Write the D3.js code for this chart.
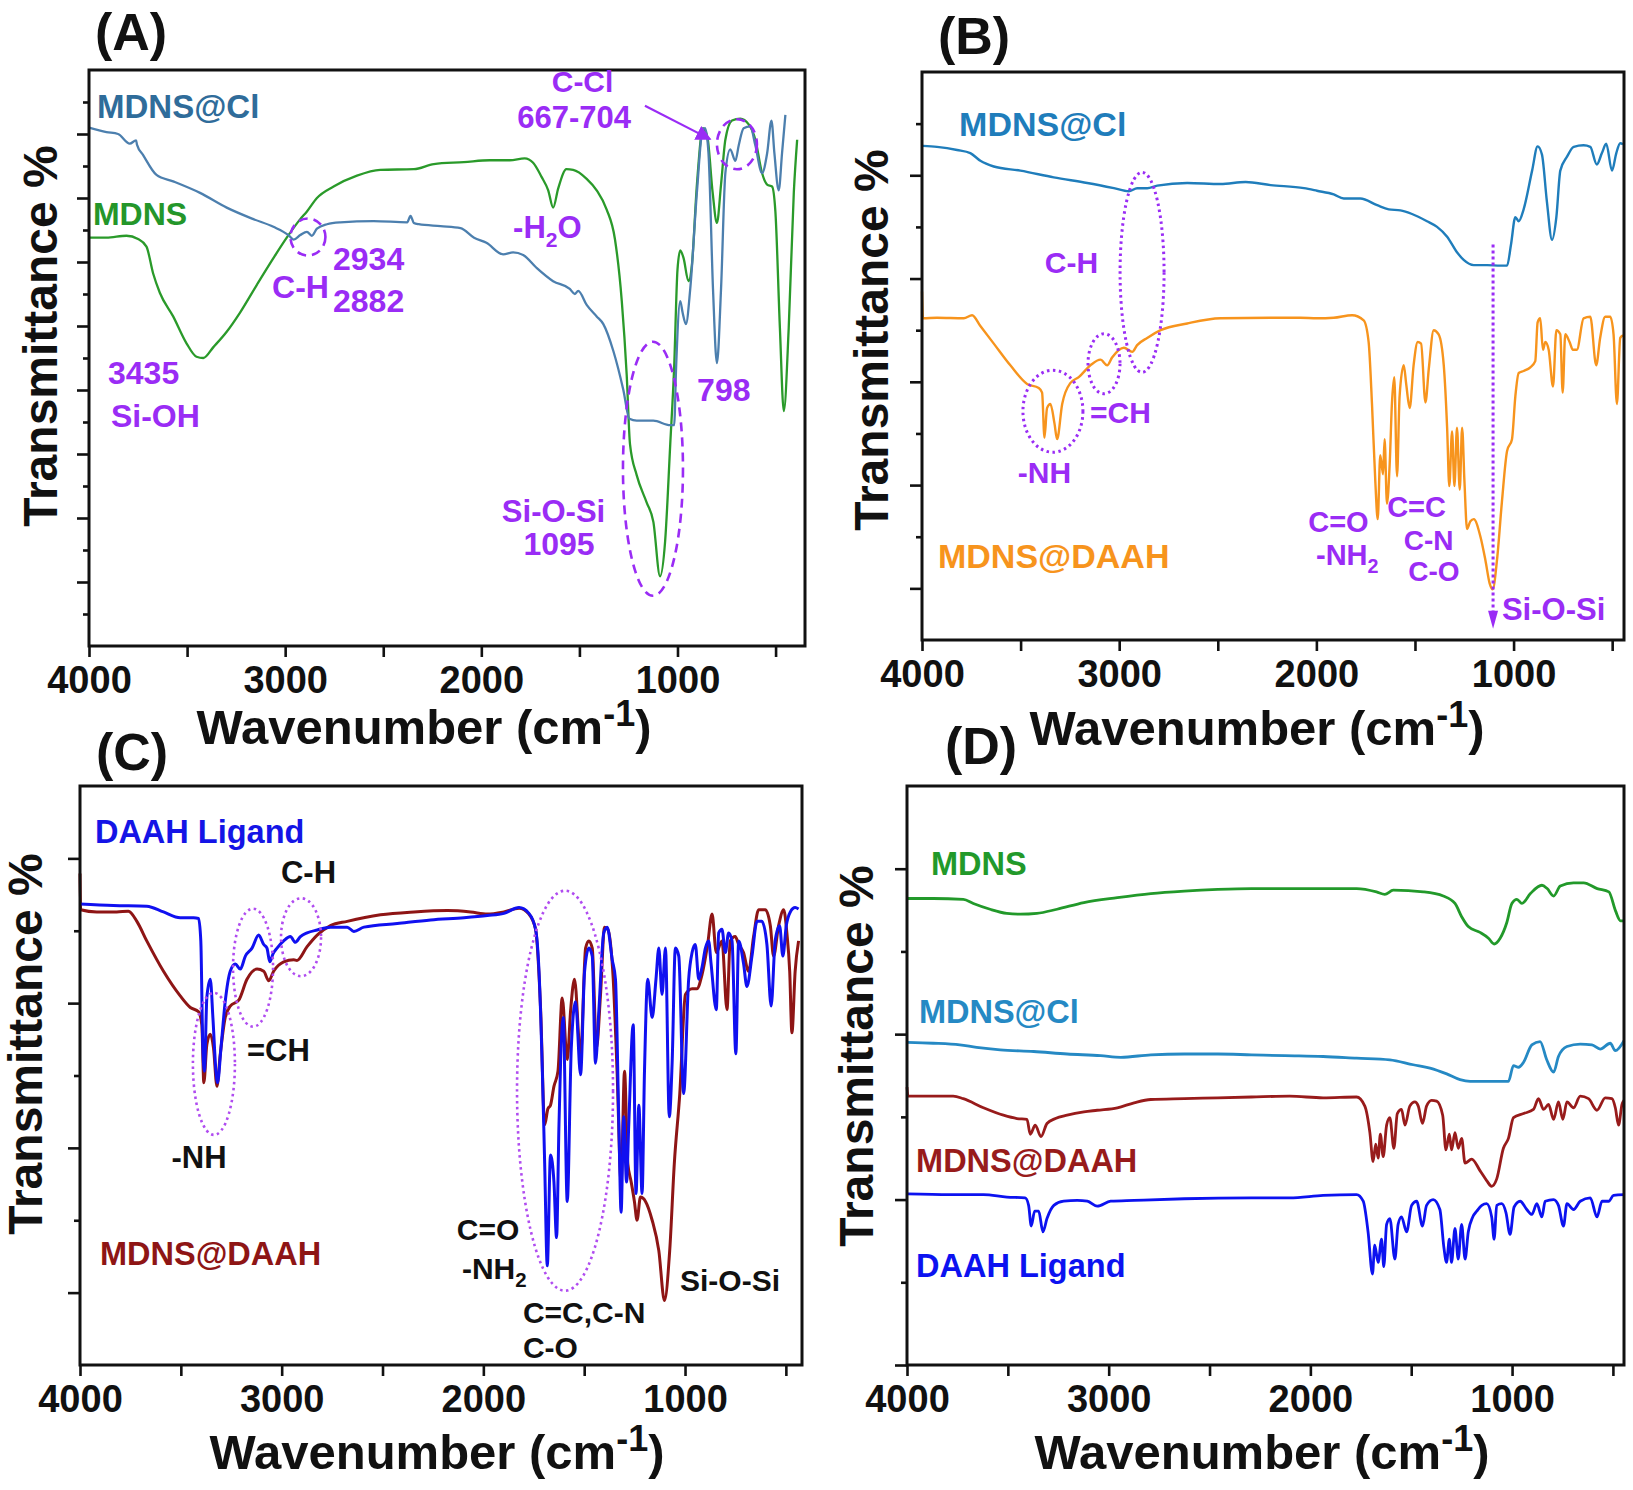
<!DOCTYPE html>
<html>
<head>
<meta charset="utf-8">
<script src="https://cdn.jsdelivr.net/npm/d3@7"></script>
<style>
  body { margin: 0; background: #fff; }
  svg text { font-family: "Liberation Sans", Arial, sans-serif; font-weight: bold; }
</style>
</head>
<body>
<div id="chart"></div>
<script>
// ---- spectra: [wavenumber, transmittance (arb. units)] ----
const aMdnsCl = [[4000,8.10],[3911,8.03],[3852,8.00],[3792,7.85],[3760,7.90],[3755,7.83],[3724,7.67],[3656,7.36],[3571,7.26],[3434,7.08],[3298,6.85],[3162,6.67],[3060,6.55],[2983,6.42],[2957,6.35],[2923,6.42],[2889,6.47],[2864,6.41],[2838,6.52],[2787,6.59],[2719,6.62],[2549,6.64],[2378,6.62],[2361,6.72],[2344,6.61],[2319,6.59],[2208,6.56],[2106,6.53],[2037,6.38],[1974,6.30],[1889,6.12],[1838,6.15],[1787,6.11],[1719,5.91],[1634,5.70],[1549,5.58],[1523,5.50],[1506,5.55],[1463,5.33],[1412,5.15],[1378,5.03],[1327,4.61],[1276,4.00],[1245,3.55],[1208,3.52],[1123,3.52],[1037,3.45],[1017,3.45],[1007,4.36],[986,5.39],[974,5.21],[957,5.03],[935,5.58],[901,7.09],[872,8.06],[859,8.09],[842,7.70],[819,5.58],[799,4.42],[778,5.58],[756,7.39],[731,7.76],[705,7.58],[688,7.82],[663,8.09],[629,8.12],[603,7.82],[569,7.39],[543,7.70],[521,8.21],[506,7.70],[484,7.12],[467,7.70],[450,8.30]];
const aMdns = [[4000,6.38],[3911,6.38],[3809,6.41],[3750,6.36],[3707,6.24],[3673,5.82],[3639,5.52],[3571,5.15],[3503,4.73],[3452,4.52],[3417,4.50],[3366,4.67],[3298,4.91],[3230,5.21],[3145,5.64],[3060,6.06],[2992,6.38],[2923,6.67],[2889,6.79],[2838,7.00],[2753,7.18],[2634,7.35],[2515,7.44],[2344,7.45],[2242,7.53],[2089,7.56],[1957,7.59],[1855,7.59],[1779,7.62],[1736,7.55],[1693,7.33],[1659,7.12],[1634,6.85],[1608,7.15],[1566,7.45],[1532,7.44],[1463,7.30],[1412,7.12],[1361,6.82],[1319,6.36],[1284,5.39],[1259,4.24],[1242,3.15],[1208,2.67],[1157,2.24],[1123,1.94],[1089,1.09],[1063,1.64],[1037,3.15],[1017,4.36],[1000,5.88],[986,6.18],[969,6.06],[944,5.70],[927,5.94],[901,7.21],[870,8.09],[847,7.94],[821,7.09],[799,6.61],[778,7.21],[756,7.91],[722,8.21],[680,8.24],[637,8.15],[603,7.91],[569,7.39],[543,7.21],[518,7.18],[501,6.79],[478,4.97],[458,3.67],[433,4.97],[407,7.09],[390,7.91]];

const bMdnsCl = [[3995,9.57],[3924,9.55],[3822,9.49],[3755,9.43],[3704,9.28],[3636,9.17],[3501,9.09],[3332,8.96],[3162,8.85],[3027,8.75],[2951,8.69],[2909,8.75],[2858,8.75],[2807,8.80],[2655,8.85],[2486,8.83],[2359,8.87],[2232,8.81],[2063,8.75],[1997,8.70],[1912,8.63],[1861,8.55],[1777,8.55],[1692,8.42],[1633,8.34],[1574,8.32],[1515,8.25],[1439,8.11],[1388,8.00],[1337,7.81],[1287,7.51],[1253,7.36],[1202,7.26],[1135,7.26],[1067,7.25],[1033,7.25],[1013,7.66],[991,8.19],[974,8.11],[949,8.34],[906,9.09],[878,9.56],[856,9.40],[831,8.49],[805,7.75],[783,8.19],[763,9.09],[729,9.36],[695,9.55],[645,9.58],[611,9.55],[578,9.21],[552,9.43],[530,9.61],[501,9.09],[479,9.43],[459,9.62],[445,9.60]];
const bMdnsDaah = [[4000,6.75],[3995,6.23],[3924,6.24],[3788,6.23],[3746,6.29],[3704,6.08],[3636,5.74],[3552,5.32],[3467,4.96],[3408,4.88],[3391,4.79],[3379,3.92],[3366,4.49],[3349,4.57],[3328,4.19],[3315,3.89],[3289,4.57],[3247,4.98],[3205,5.09],[3146,5.32],[3095,5.43],[3061,5.32],[3036,5.47],[2976,5.66],[2934,5.58],[2909,5.71],[2858,5.85],[2790,6.00],[2655,6.13],[2486,6.23],[2232,6.24],[2081,6.24],[1997,6.23],[1912,6.24],[1819,6.29],[1760,6.19],[1735,5.77],[1718,4.57],[1701,3.06],[1689,2.34],[1676,3.58],[1662,3.21],[1654,3.89],[1642,2.64],[1628,3.43],[1617,4.57],[1605,5.09],[1591,3.17],[1578,4.72],[1557,5.32],[1544,4.94],[1527,4.49],[1507,5.32],[1486,5.77],[1469,5.74],[1447,4.60],[1430,5.25],[1405,6.00],[1380,5.92],[1354,5.32],[1337,4.11],[1326,2.98],[1312,4.04],[1300,2.98],[1287,4.11],[1273,2.91],[1261,4.11],[1249,3.06],[1236,2.15],[1219,2.30],[1202,2.34],[1168,2.00],[1143,1.55],[1121,1.09],[1106,0.98],[1084,1.55],[1059,2.68],[1033,3.66],[1008,3.89],[991,4.72],[974,5.17],[949,5.21],[915,5.28],[890,5.40],[878,6.15],[865,6.23],[851,5.62],[839,5.77],[822,5.62],[800,4.91],[783,6.00],[763,5.92],[751,4.79],[738,5.92],[716,5.77],[699,5.62],[679,5.62],[645,6.23],[611,6.26],[581,5.32],[561,5.85],[535,6.26],[510,6.26],[493,5.92],[476,4.57],[459,5.85],[445,5.90]];

const cLigand = [[4000,6.37],[3834,6.35],[3669,6.34],[3586,6.26],[3503,6.18],[3437,6.18],[3412,6.17],[3401,5.86],[3391,4.38],[3383,4.06],[3371,5.08],[3354,5.33],[3341,4.80],[3326,4.06],[3318,3.90],[3301,4.38],[3280,5.02],[3255,5.44],[3230,5.54],[3205,5.47],[3180,5.65],[3147,5.76],[3114,5.94],[3089,5.81],[3073,5.76],[3059,5.57],[3043,5.68],[3023,5.76],[2990,5.86],[2957,5.92],[2932,5.84],[2907,5.92],[2874,5.97],[2824,6.01],[2758,6.05],[2675,6.05],[2642,5.99],[2592,6.05],[2427,6.10],[2261,6.15],[2096,6.18],[1980,6.21],[1898,6.24],[1823,6.32],[1774,6.24],[1741,6.02],[1724,5.44],[1708,4.12],[1696,2.79],[1683,1.37],[1667,2.90],[1650,2.53],[1637,1.76],[1625,3.32],[1604,4.80],[1584,2.26],[1564,4.38],[1543,5.02],[1518,4.01],[1498,5.44],[1477,5.76],[1460,5.65],[1444,4.17],[1427,4.91],[1403,5.97],[1386,6.05],[1361,5.60],[1345,5.33],[1328,3.32],[1317,2.11],[1304,3.43],[1290,2.53],[1279,3.32],[1257,4.70],[1243,2.37],[1229,3.59],[1213,2.37],[1201,4.06],[1185,5.33],[1163,4.80],[1144,5.33],[1130,5.76],[1114,5.12],[1097,5.76],[1078,3.43],[1064,4.17],[1048,5.76],[1031,5.65],[1007,3.75],[982,5.33],[965,5.70],[949,5.81],[932,5.33],[916,5.49],[899,5.76],[883,5.86],[871,5.55],[845,4.91],[833,5.97],[817,6.02],[800,5.70],[784,5.97],[767,5.86],[748,4.30],[734,5.86],[710,5.55],[693,5.23],[668,5.65],[643,6.13],[619,6.13],[594,5.81],[573,4.96],[553,5.86],[531,6.07],[515,5.65],[498,6.07],[478,6.26],[454,6.32],[437,6.30]];
const cMdnsDaah = [[4000,6.79],[3997,6.29],[3917,6.26],[3818,6.26],[3760,6.27],[3718,6.13],[3669,5.86],[3586,5.44],[3503,5.10],[3453,4.94],[3412,4.88],[3396,4.70],[3386,3.90],[3371,4.43],[3354,4.57],[3338,4.38],[3321,3.85],[3305,4.28],[3280,4.80],[3255,4.96],[3213,5.04],[3172,5.33],[3122,5.47],[3089,5.44],[3064,5.31],[3040,5.44],[2990,5.57],[2940,5.60],[2924,5.59],[2874,5.78],[2824,5.94],[2758,6.07],[2675,6.13],[2510,6.22],[2344,6.26],[2178,6.28],[2063,6.26],[1980,6.23],[1898,6.26],[1823,6.31],[1774,6.23],[1741,6.02],[1716,4.91],[1696,3.32],[1680,3.54],[1667,3.59],[1650,3.85],[1630,4.06],[1609,5.07],[1584,4.22],[1567,4.91],[1548,5.33],[1518,4.28],[1493,5.76],[1477,5.86],[1460,5.76],[1439,4.38],[1419,5.12],[1399,6.05],[1383,6.02],[1356,5.33],[1337,4.06],[1317,2.53],[1300,4.06],[1284,2.79],[1267,2.53],[1251,2.26],[1238,2.00],[1221,2.32],[1196,2.26],[1163,2.00],[1130,1.58],[1102,0.89],[1076,1.58],[1053,2.79],[1026,3.75],[998,5.12],[965,5.20],[941,5.20],[916,5.39],[888,5.81],[866,6.23],[845,5.70],[817,5.86],[792,4.91],[776,5.86],[751,5.92],[734,5.81],[710,5.70],[685,5.44],[660,5.92],[635,6.29],[602,6.29],[577,6.07],[561,5.65],[536,6.07],[511,6.29],[495,5.97],[481,5.44],[470,4.59],[454,5.44],[437,5.86]];

const dMdns = [[4000,5.64],[3870,5.64],[3721,5.63],[3671,5.58],[3588,5.51],[3505,5.46],[3439,5.45],[3356,5.46],[3256,5.51],[3123,5.59],[2957,5.65],[2791,5.70],[2625,5.73],[2459,5.75],[2292,5.76],[2126,5.76],[1937,5.76],[1771,5.76],[1672,5.72],[1631,5.69],[1589,5.74],[1440,5.72],[1341,5.67],[1283,5.58],[1250,5.42],[1217,5.30],[1159,5.23],[1117,5.16],[1089,5.09],[1059,5.16],[1026,5.35],[1001,5.58],[976,5.63],[951,5.58],[909,5.70],[852,5.80],[826,5.76],[794,5.67],[761,5.79],[695,5.83],[645,5.83],[578,5.76],[520,5.72],[487,5.49],[462,5.37],[445,5.37]];
const dMdnsCl = [[4000,3.90],[3870,3.89],[3738,3.87],[3655,3.84],[3538,3.81],[3372,3.79],[3206,3.76],[3040,3.74],[2940,3.72],[2791,3.75],[2625,3.76],[2459,3.76],[2292,3.75],[2126,3.74],[1937,3.73],[1771,3.71],[1606,3.69],[1490,3.63],[1407,3.59],[1324,3.52],[1258,3.45],[1208,3.43],[1109,3.43],[1018,3.43],[993,3.62],[968,3.60],[943,3.66],[902,3.87],[861,3.91],[828,3.69],[794,3.54],[770,3.73],[728,3.85],[662,3.88],[604,3.87],[563,3.82],[513,3.89],[488,3.80],[445,3.92]];
const dMdnsDaah = [[4000,3.36],[3995,3.25],[3870,3.25],[3771,3.25],[3721,3.22],[3621,3.11],[3522,3.02],[3455,2.98],[3405,2.97],[3389,2.79],[3364,2.90],[3336,2.76],[3306,2.92],[3264,2.98],[3206,3.02],[3123,3.06],[3057,3.08],[2957,3.11],[2874,3.17],[2791,3.21],[2625,3.22],[2459,3.23],[2292,3.24],[2103,3.25],[1937,3.23],[1771,3.24],[1730,3.13],[1705,2.81],[1689,2.46],[1676,2.67],[1664,2.50],[1653,2.79],[1639,2.52],[1622,2.90],[1606,2.99],[1586,2.62],[1569,3.04],[1548,3.09],[1531,2.90],[1507,3.13],[1482,3.18],[1465,3.13],[1444,2.92],[1424,3.13],[1399,3.20],[1374,3.19],[1344,3.02],[1328,2.60],[1311,2.79],[1300,2.60],[1283,2.81],[1267,2.62],[1250,2.74],[1233,2.44],[1200,2.49],[1159,2.35],[1126,2.23],[1101,2.16],[1076,2.25],[1043,2.62],[1018,2.74],[993,2.99],[943,3.04],[894,3.09],[869,3.22],[844,3.09],[819,3.15],[794,2.97],[770,3.18],[748,2.97],[728,3.18],[695,3.11],[662,3.25],[621,3.22],[579,3.08],[538,3.23],[505,3.22],[488,3.11],[472,2.90],[455,3.15],[445,3.20]];
const dLigand = [[4000,2.07],[3787,2.06],[3621,2.06],[3505,2.03],[3414,2.02],[3397,1.93],[3384,1.68],[3367,1.86],[3347,1.86],[3326,1.61],[3306,1.77],[3272,1.93],[3223,1.98],[3156,1.99],[3106,1.98],[3057,1.92],[2990,1.98],[2874,1.99],[2625,2.01],[2292,2.02],[2103,2.02],[1937,2.05],[1771,2.06],[1738,1.98],[1714,1.61],[1692,1.10],[1681,1.45],[1664,1.24],[1647,1.52],[1636,1.19],[1622,1.70],[1606,1.77],[1581,1.28],[1565,1.70],[1548,1.79],[1523,1.61],[1498,1.93],[1473,1.98],[1444,1.68],[1424,1.93],[1391,2.00],[1358,1.88],[1338,1.42],[1325,1.24],[1311,1.52],[1300,1.24],[1283,1.65],[1267,1.28],[1250,1.70],[1233,1.28],[1217,1.61],[1195,1.79],[1175,1.86],[1150,1.93],[1126,1.95],[1101,1.79],[1089,1.52],[1076,1.93],[1051,1.95],[1030,1.84],[1010,1.58],[990,1.91],[960,1.98],[927,1.88],[902,1.82],[877,1.95],[852,1.79],[836,1.98],[794,2.00],[770,1.93],[745,1.68],[728,1.95],[695,1.88],[662,1.98],[612,2.02],[579,1.79],[554,1.98],[521,1.98],[497,2.05],[445,2.06]];

// ---- tick labels / axis text ----
const xMajorTicks = [4000, 3000, 2000, 1000];
const xMinorTicks = [3500, 2500, 1500, 500];
const panelLetters = ["(A)", "(B)", "(C)", "(D)"];
const yTitle = "Transmittance %";

const PURPLE = "#9a2cf5";

const svg = d3.select("#chart").append("svg")
    .attr("width", 1633)
    .attr("height", 1490)
    .style("background", "#fff");

// text with optional subscript parts: parts = ["-NH", {sub:"2"}]
function richText(g, x, y, parts, size, color, anchor) {
  const t = g.append("text")
    .attr("x", x).attr("y", y)
    .attr("text-anchor", anchor || "start")
    .style("font-size", size + "px")
    .style("fill", color);
  let shifted = 0;
  (Array.isArray(parts) ? parts : [parts]).forEach(p => {
    if (typeof p === "string") {
      t.append("tspan").attr("dy", -shifted).text(p);
      shifted = 0;
    } else {
      const dy = size * 0.28;
      t.append("tspan").attr("dy", dy - shifted).style("font-size", (size * 0.68) + "px").text(p.sub);
      shifted = dy;
    }
  });
  return t;
}

function drawPanel(p) {
  const w = p.right - p.left, h = p.bottom - p.top;
  const g = svg.append("g").attr("transform", `translate(${p.left},${p.top})`);

  const x = d3.scaleLinear().domain([4000, p.xEnd]).range([0, w]);
  const y = d3.scaleLinear().domain([0, p.yMax]).range([h, 0]);

  const line = d3.line()
    .x(d => x(d[0]))
    .y(d => y(d[1]))
    .curve(d3.curveMonotoneX);

  // spectra
  p.series.forEach(s => {
    g.append("path")
      .datum(s.data)
      .attr("d", line)
      .style("fill", "none")
      .style("stroke", s.color)
      .style("stroke-width", p.lineWidth)
      .style("stroke-linejoin", "round");
  });

  // axes
  const xAxis = g.append("g").attr("transform", `translate(0,${h})`)
    .call(d3.axisBottom(x).tickValues(xMajorTicks).tickSize(11).tickPadding(9).tickFormat(d3.format("d")));
  g.append("g").attr("transform", `translate(0,${h})`)
    .call(d3.axisBottom(x).tickValues(xMinorTicks).tickSize(11).tickFormat(""));
  g.append("g").call(d3.axisLeft(y).tickValues(p.yMajor).tickSize(12).tickFormat(""));
  g.append("g").call(d3.axisLeft(y).tickValues(p.yMinor).tickSize(6).tickFormat(""));

  g.selectAll(".domain").remove();
  g.selectAll(".tick line").style("stroke", "#111").style("stroke-width", 2.6);
  xAxis.selectAll("text")
    .style("font-size", "38px")
    .style("font-family", "'Liberation Sans', Arial, sans-serif")
    .style("font-weight", "bold")
    .style("fill", "#111");

  // frame
  g.append("rect")
    .attr("width", w).attr("height", h)
    .style("fill", "none")
    .style("stroke", "#111")
    .style("stroke-width", 3);

  // annotations
  (p.ellipses || []).forEach(e => {
    g.append("ellipse")
      .attr("cx", x(e.wn)).attr("cy", y(e.v))
      .attr("rx", e.rx).attr("ry", e.ry)
      .style("fill", "none")
      .style("stroke", e.color || PURPLE)
      .style("stroke-width", e.width || 2.6)
      .style("stroke-dasharray", e.dash);
  });
  (p.labels || []).forEach(l => {
    richText(g, x(l.wn), y(l.v), l.text, l.size, l.color || PURPLE, l.anchor);
  });
  if (p.extra) p.extra(g, x, y);

  // axis titles
  svg.append("text")
    .attr("transform", `translate(${p.yTitleX},${p.yTitleY}) rotate(-90)`)
    .attr("text-anchor", "middle")
    .style("font-size", "48px")
    .style("fill", "#111")
    .text(yTitle);

  const xt = svg.append("text")
    .attr("x", p.xTitleX).attr("y", p.xTitleY)
    .attr("text-anchor", "middle")
    .style("font-size", "49px")
    .style("fill", "#111");
  xt.append("tspan").text("Wavenumber (cm");
  xt.append("tspan").attr("dy", -18).style("font-size", "36px").text("-1");
  xt.append("tspan").attr("dy", 18).text(")");

  svg.append("text")
    .attr("x", p.letterX).attr("y", p.letterY)
    .style("font-size", "52px")
    .style("fill", "#111")
    .text(p.letter);
}

svg.append("defs").append("marker")
    .attr("id", "arrowA")
    .attr("viewBox", "0 0 10 10")
    .attr("refX", 9).attr("refY", 5)
    .attr("markerWidth", 7).attr("markerHeight", 7)
    .attr("orient", "auto")
  .append("path")
    .attr("d", "M0,0 L10,5 L0,10 z")
    .style("fill", PURPLE);

const dashed = "9,6";
const dotted = "2.5,3.5";

// ---- (A) ----
drawPanel({
  letter: panelLetters[0], letterX: 95, letterY: 50,
  left: 89, top: 70, right: 805, bottom: 646,
  xEnd: 350, yMax: 9,
  yMajor: [1, 2, 3, 4, 5, 6, 7, 8],
  yMinor: [0.5, 1.5, 2.5, 3.5, 4.5, 5.5, 6.5, 7.5, 8.5],
  lineWidth: 2.3,
  yTitleX: 57, yTitleY: 336, xTitleX: 424, xTitleY: 744,
  series: [
    { data: aMdns, color: "#2a9a2a" },
    { data: aMdnsCl, color: "#4c7fae" }
  ],
  ellipses: [
    { wn: 2884, v: 6.39, rx: 17.5, ry: 18.5, dash: dashed },
    { wn: 697, v: 7.84, rx: 20, ry: 25, dash: dashed },
    { wn: 1125, v: 2.77, rx: 30, ry: 127, dash: dashed }
  ],
  labels: [
    { wn: 3959, v: 8.25, text: "MDNS@Cl", size: 33, color: "#2f6c9a" },
    { wn: 3980, v: 6.58, text: "MDNS", size: 32, color: "#24962a" },
    { wn: 3903, v: 4.09, text: "3435", size: 32 },
    { wn: 3888, v: 3.42, text: "Si-OH", size: 32 },
    { wn: 2756, v: 5.875, text: "2934", size: 32 },
    { wn: 3067, v: 5.44, text: "C-H", size: 32 },
    { wn: 2756, v: 5.22, text: "2882", size: 32 },
    { wn: 1484, v: 8.65, text: "C-Cl", size: 30, anchor: "middle" },
    { wn: 1527, v: 8.09, text: "667-704", size: 31, anchor: "middle" },
    { wn: 1838, v: 6.375, text: ["-H", { sub: "2" }, "O"], size: 31 },
    { wn: 900, v: 3.83, text: "798", size: 32 },
    { wn: 1632, v: 1.93, text: "Si-O-Si", size: 31, anchor: "middle" },
    { wn: 1604, v: 1.42, text: "1095", size: 32, anchor: "middle" }
  ],
  extra: (g, x, y) => {
    g.append("line")
      .attr("x1", x(1166)).attr("y1", y(8.44))
      .attr("x2", x(834)).attr("y2", y(7.92))
      .style("stroke", PURPLE).style("stroke-width", 2.2)
      .attr("marker-end", "url(#arrowA)");
  }
});

// ---- (B) ----
drawPanel({
  letter: panelLetters[1], letterX: 938, letterY: 54,
  left: 922, top: 72, right: 1624, bottom: 640,
  xEnd: 440, yMax: 11,
  yMajor: [1, 3, 5, 7, 9],
  yMinor: [2, 4, 6, 8, 10],
  lineWidth: 2.4,
  yTitleX: 888, yTitleY: 340, xTitleX: 1257, xTitleY: 745,
  series: [
    { data: bMdnsCl, color: "#1f7dbb" },
    { data: bMdnsDaah, color: "#f7941d" }
  ],
  ellipses: [
    { wn: 2884, v: 7.12, rx: 22, ry: 100, dash: dotted, width: 3 },
    { wn: 3077, v: 5.35, rx: 16, ry: 30, dash: dotted, width: 3 },
    { wn: 3336, v: 4.43, rx: 30, ry: 41, dash: dotted, width: 3 }
  ],
  labels: [
    { wn: 3812, v: 9.77, text: "MDNS@Cl", size: 34, color: "#1f7dbb" },
    { wn: 3242, v: 7.10, text: "C-H", size: 30, anchor: "middle" },
    { wn: 3148, v: 4.21, text: "=CH", size: 30 },
    { wn: 3379, v: 3.05, text: "-NH", size: 30, anchor: "middle" },
    { wn: 3919, v: 1.39, text: "MDNS@DAAH", size: 34, color: "#f7941d" },
    { wn: 1888, v: 2.10, text: "C=O", size: 29, anchor: "middle" },
    { wn: 2002, v: 1.46, text: ["-NH", { sub: "2" }], size: 29 },
    { wn: 1492, v: 2.38, text: "C=C", size: 29, anchor: "middle" },
    { wn: 1431, v: 1.75, text: "C-N", size: 28, anchor: "middle" },
    { wn: 1404, v: 1.14, text: "C-O", size: 28, anchor: "middle" },
    { wn: 1059, v: 0.38, text: "Si-O-Si", size: 31 }
  ],
  extra: (g, x, y) => {
    const ax = x(1104);
    g.append("line")
      .attr("x1", ax).attr("y1", y(7.66))
      .attr("x2", ax).attr("y2", y(0.55))
      .style("stroke", PURPLE).style("stroke-width", 3)
      .style("stroke-dasharray", "3,3");
    const tip = y(0.22);
    g.append("path")
      .attr("d", `M${ax - 5},${tip - 18} L${ax + 5},${tip - 18} L${ax},${tip} Z`)
      .style("fill", PURPLE);
  }
});

// ---- (C) ----
drawPanel({
  letter: panelLetters[2], letterX: 96, letterY: 770,
  left: 80, top: 786, right: 802, bottom: 1365,
  xEnd: 420, yMax: 8,
  yMajor: [1, 3, 5, 7],
  yMinor: [2, 4, 6],
  lineWidth: 3,
  yTitleX: 42, yTitleY: 1044, xTitleX: 437, xTitleY: 1469,
  series: [
    { data: cMdnsDaah, color: "#8e1515" },
    { data: cLigand, color: "#1010f0" }
  ],
  ellipses: [
    { wn: 3336, v: 4.16, rx: 21, ry: 71, dash: dotted, color: "#b04cf0" },
    { wn: 3142, v: 5.49, rx: 20, ry: 59, dash: dotted, color: "#b04cf0" },
    { wn: 2904, v: 5.91, rx: 20, ry: 39, dash: dotted, color: "#b04cf0" },
    { wn: 1595, v: 3.79, rx: 48, ry: 200, dash: dotted, color: "#b04cf0" }
  ],
  labels: [
    { wn: 3926, v: 7.21, text: "DAAH Ligand", size: 32.5, color: "#1414e6" },
    { wn: 2867, v: 6.66, text: "C-H", size: 31, color: "#111", anchor: "middle" },
    { wn: 3172, v: 4.20, text: "=CH", size: 31, color: "#111" },
    { wn: 3410, v: 2.72, text: "-NH", size: 31, color: "#111", anchor: "middle" },
    { wn: 3901, v: 1.38, text: "MDNS@DAAH", size: 32.5, color: "#8e1515" },
    { wn: 1977, v: 1.73, text: "C=O", size: 30, color: "#111", anchor: "middle" },
    { wn: 2106, v: 1.19, text: ["-NH", { sub: "2" }], size: 30, color: "#111" },
    { wn: 1804, v: 0.58, text: "C=C,C-N", size: 30, color: "#111" },
    { wn: 1804, v: 0.10, text: "C-O", size: 30, color: "#111" },
    { wn: 1025, v: 1.02, text: "Si-O-Si", size: 30, color: "#111" }
  ]
});

// ---- (D) ----
drawPanel({
  letter: panelLetters[3], letterX: 945, letterY: 764,
  left: 907, top: 786, right: 1624, bottom: 1365,
  xEnd: 445, yMax: 7,
  yMajor: [0, 2, 4, 6],
  yMinor: [1, 3, 5],
  lineWidth: 2.8,
  yTitleX: 873, yTitleY: 1056, xTitleX: 1262, xTitleY: 1469,
  series: [
    { data: dMdns, color: "#22992a" },
    { data: dMdnsCl, color: "#2589c4" },
    { data: dMdnsDaah, color: "#981b1b" },
    { data: dLigand, color: "#0c12f0" }
  ],
  labels: [
    { wn: 3881, v: 5.92, text: "MDNS", size: 32.5, color: "#22992a" },
    { wn: 3941, v: 4.13, text: "MDNS@Cl", size: 32.5, color: "#2589c4" },
    { wn: 3955, v: 2.33, text: "MDNS@DAAH", size: 32.5, color: "#981b1b" },
    { wn: 3955, v: 1.06, text: "DAAH Ligand", size: 32.5, color: "#0c12f0" }
  ]
});
</script>
</body>
</html>
